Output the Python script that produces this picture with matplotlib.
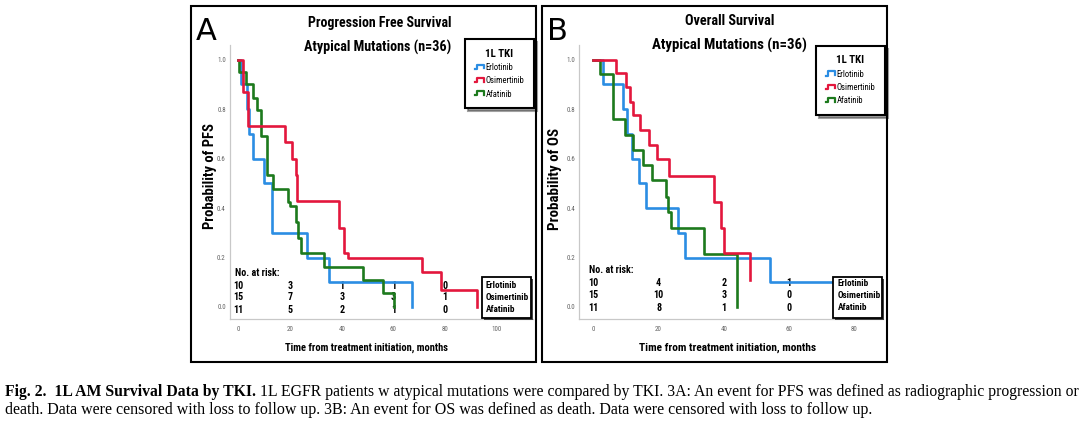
import matplotlib
matplotlib.use("Agg")
import matplotlib.pyplot as plt
from matplotlib import font_manager
from matplotlib.patches import Rectangle
from matplotlib.lines import Line2D
from matplotlib.legend_handler import HandlerBase

W, H = 1080, 423
SERIF = ["Liberation Serif", "DejaVu Serif"]

drugs = ["Erlotinib", "Osimertinib", "Afatinib"]
colors = ["#2b8de3", "#e3173d", "#1d7a1d"]

# panel A - progression free survival (months, probability)
pfs_erl_t = [0, 1.0, 3.2, 4.0, 5.8, 10.0, 12.9, 26.7, 35.0, 67.2]
pfs_erl_s = [1.0, 0.9, 0.8, 0.7, 0.6, 0.5, 0.3, 0.2, 0.1, 0.0]
pfs_osi_t = [0, 1.9, 3.9, 18.0, 20.6, 22.3, 22.8, 39.0, 40.9, 42.5, 71.2, 78.3, 92.2]
pfs_osi_s = [1.0, 0.867, 0.733, 0.667, 0.6, 0.533, 0.43, 0.32, 0.22, 0.2, 0.14, 0.07, 0.0]
pfs_afa_t = [0, 0.3, 3.0, 5.8, 7.1, 8.8, 11.0, 13.3, 19.1, 20.0, 22.3, 23.2, 24.3, 33.2, 48.1, 56.1, 60.2]
pfs_afa_s = [1.0, 0.95, 0.9, 0.845, 0.795, 0.69, 0.535, 0.475, 0.425, 0.41, 0.345, 0.28, 0.22, 0.16, 0.11, 0.055, 0.0]

# panel B - overall survival
os_erl_t = [0, 3.0, 9.2, 10.4, 12.0, 14.1, 16.1, 26.0, 28.1, 54.1, 76.0]
os_erl_s = [1.0, 0.9, 0.8, 0.7, 0.6, 0.5, 0.4, 0.3, 0.2, 0.1, 0.1]
os_osi_t = [0, 7.1, 9.9, 11.2, 12.3, 14.3, 17.2, 19.6, 23.3, 37.0, 39.1, 40.0, 48.0]
os_osi_s = [1.0, 0.947, 0.89, 0.83, 0.775, 0.715, 0.655, 0.597, 0.53, 0.425, 0.318, 0.217, 0.11]
os_afa_t = [0, 2.0, 6.0, 9.7, 12.1, 15.1, 18.1, 22.3, 23.0, 23.8, 34.0, 44.1]
os_afa_s = [1.0, 0.94, 0.758, 0.695, 0.634, 0.574, 0.513, 0.446, 0.383, 0.318, 0.214, 0.0]

# numbers at risk
pfs_risk_times = [0, 20, 40, 60, 80]
pfs_risk = [[10, 3, 1, 1, 0], [15, 7, 3, 3, 1], [11, 5, 2, 1, 0]]
os_risk_times = [0, 20, 40, 60]
os_risk = [[10, 4, 2, 1], [15, 10, 3, 0], [11, 8, 1, 0]]

pfs_xticks = [0, 20, 40, 60, 80, 100]
os_xticks = [0, 20, 40, 60, 80]
yticks = [0.0, 0.2, 0.4, 0.6, 0.8, 1.0]


def pick_narrow():
    # look for a condensed sans face, the chart uses one
    names = {f.name for f in font_manager.fontManager.ttflist}
    for name in ["Roboto Condensed", "Liberation Sans Narrow"]:
        if name in names:
            return {"family": name}
    return {"family": "Liberation Sans"}


NARROW = pick_narrow()


def fx(px):
    return px / W


def fy(py):
    return 1 - py / H


class StepHandler(HandlerBase):
    # small step-shaped legend icon like the SPSS output
    def create_artists(self, legend, orig_handle, xdescent, ydescent,
                       width, height, fontsize, trans):
        x0, y0 = -xdescent, -ydescent
        xs = [x0, x0 + 0.3 * width, x0 + 0.3 * width, x0 + width, x0 + width]
        ys = [y0 + 0.2 * height, y0 + 0.2 * height, y0 + 0.9 * height,
              y0 + 0.9 * height, y0 + 0.3 * height]
        line = Line2D(xs, ys, color=orig_handle.get_color(), lw=1.6,
                      transform=trans)
        return [line]


def boxed(fig, x0, y0, x1, y1, lw=1.3):
    # white box with a dark drop shadow, pixel coords
    fig.patches.append(Rectangle((fx(x0 + 2), fy(y1 + 2)), fx(x1 - x0), (y1 - y0) / H,
                                 transform=fig.transFigure, facecolor="#444444",
                                 edgecolor="none", zorder=5))
    fig.patches.append(Rectangle((fx(x0), fy(y1)), fx(x1 - x0), (y1 - y0) / H,
                                 transform=fig.transFigure, facecolor="white",
                                 edgecolor="black", lw=lw, zorder=6))


def draw_panel(fig, rect, xlim, curves, xticks, risk_times, risk, risk_y,
               risk_label_y):
    ax = fig.add_axes(rect)
    for i in [0, 2, 1]:
        t, s = curves[i]
        ax.step(t, s, where="post", color=colors[i], lw=1.9, zorder=3)
    ax.set_xlim(*xlim)
    ax.set_ylim(-0.0497, 1.0586)
    ax.set_xticks(xticks)
    ax.set_xticklabels([str(v) for v in xticks])
    ax.set_yticks(yticks)
    ax.set_yticklabels([f"{v:.1f}" for v in yticks])
    ax.tick_params(length=0, labelsize=5, colors="#666666", pad=3)
    ax.tick_params(axis="x", pad=4.5)
    for lab in ax.get_xticklabels() + ax.get_yticklabels():
        lab.set(**NARROW)
    for side in ["top", "right"]:
        ax.spines[side].set_visible(False)
    for side in ["left", "bottom"]:
        ax.spines[side].set_color("#c8c8c8")
        ax.spines[side].set_linewidth(0.9)

    ax.text(risk_times[0] - 1.3, risk_label_y, "No. at risk:", fontsize=7.2,
            weight="bold", va="center", ha="left", zorder=4, **NARROW)
    for r, row in enumerate(risk):
        for j, n in enumerate(row):
            ax.text(risk_times[j], risk_y[r], str(n), fontsize=7.2, weight="bold",
                    va="center", ha="center", zorder=2, **NARROW)

    handles = [Line2D([], [], color=c) for c in colors]
    return ax, handles


fig = plt.figure(figsize=(W / 100, H / 100), dpi=100)

# panel frames
for x0, x1 in [(191, 536), (541.5, 886.5)]:
    fig.patches.append(Rectangle((fx(x0), fy(361.7)), fx(x1 - x0), (361.7 - 6) / H,
                                 transform=fig.transFigure, facecolor="none",
                                 edgecolor="black", lw=1.5))

# panel A
axA, hA = draw_panel(
    fig, [fx(230), fy(319.3), fx(303), 274.3 / H], (-3.21, 114.0),
    [(pfs_erl_t, pfs_erl_s), (pfs_osi_t, pfs_osi_s), (pfs_afa_t, pfs_afa_s)],
    pfs_xticks, pfs_risk_times, pfs_risk, [0.085, 0.039, -0.012], 0.139)
# panel B
axB, hB = draw_panel(
    fig, [fx(579.3), fy(319.3), fx(303.7), 274.3 / H], (-4.29, 88.73),
    [(os_erl_t, os_erl_s), (os_osi_t, os_osi_s), (os_afa_t, os_afa_s)],
    os_xticks, os_risk_times, os_risk, [0.096, 0.048, -0.003], 0.149)

# legends
for ax, h, corner in [(axA, hA, (534, 39.3)), (axB, hB, (885, 46))]:
    leg = ax.legend(h, drugs, title="1L TKI", loc="upper right",
                    bbox_to_anchor=(fx(corner[0]), fy(corner[1])),
                    bbox_transform=fig.transFigure, borderaxespad=0,
                    handler_map={Line2D: StepHandler()},
                    title_fontproperties=dict(weight="bold", size=7.8, **NARROW),
                    prop=dict(size=6.2, **NARROW),
                    handlelength=1.1, handletextpad=0.2, labelspacing=0.5,
                    borderpad=1.1, fancybox=False, shadow={"color": "#444444"},
                    edgecolor="black", framealpha=1)
    leg.get_frame().set_linewidth(1.5)
    leg.set_zorder(10)

# risk table label boxes
for x0, x1, tx, ys in [(481.7, 530.7, 486, [286, 297.3, 310]),
                       (833.3, 881.7, 837.7, [283.3, 295, 307.7])]:
    boxed(fig, x0, 276.7, x1, 318.3)
    for name, yy in zip(drugs, ys):
        fig.text(fx(tx), fy(yy), name, fontsize=6.7, weight="bold",
                 va="center", ha="left", zorder=7, **NARROW)

# titles and axis labels
fig.text(fx(380), fy(23), "Progression Free Survival", fontsize=10, weight="bold",
         ha="center", va="center", **NARROW)
fig.text(fx(378), fy(47), "Atypical Mutations (n=36)", fontsize=10.2, weight="bold",
         ha="center", va="center", **NARROW)
fig.text(fx(730), fy(21), "Overall Survival", fontsize=10.3, weight="bold",
         ha="center", va="center", **NARROW)
fig.text(fx(729), fy(45), "Atypical Mutations (n=36)", fontsize=10.7, weight="bold",
         ha="center", va="center", **NARROW)
fig.text(fx(196), fy(31), "A", fontsize=22, ha="left", va="center")
fig.text(fx(547), fy(31), "B", fontsize=22, ha="left", va="center")
fig.text(fx(210), fy(176), "Probability of PFS", fontsize=10.5, weight="bold",
         rotation=90, ha="center", va="center", **NARROW)
fig.text(fx(555), fy(179), "Probability of OS", fontsize=10.8, weight="bold",
         rotation=90, ha="center", va="center", **NARROW)
fig.text(fx(366.7), fy(348.3), "Time from treatment initiation, months", fontsize=7.6,
         weight="bold", ha="center", va="center", **NARROW)
fig.text(fx(728), fy(348.3), "Time from treatment initiation, months", fontsize=8.2,
         weight="bold", ha="center", va="center", **NARROW)

# caption
cap = fig.add_axes([0, 0, 1, 0.14])
cap.axis("off")
t1 = cap.text(fx(5), fy(400) / 0.14, "Fig. 2.  1L AM Survival Data by TKI.",
              fontsize=11.3, weight="bold", family=SERIF, va="bottom", ha="left")
cap.annotate(" 1L EGFR patients w atypical mutations were compared by TKI. 3A: An event "
             "for PFS was defined as radiographic progression or",
             xy=(1, 0), xycoords=t1, va="bottom", ha="left", fontsize=11.3, family=SERIF)
cap.text(fx(5), fy(418) / 0.14,
         "death. Data were censored with loss to follow up. 3B: An event for OS was "
         "defined as death. Data were censored with loss to follow up.",
         fontsize=11.5, family=SERIF, va="bottom", ha="left")

fig.savefig("out.png", dpi=100)
